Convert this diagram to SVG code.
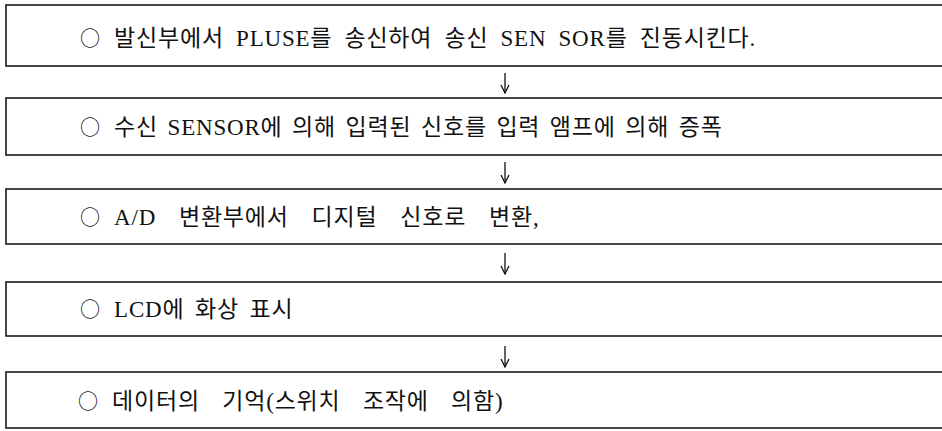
<svg xmlns="http://www.w3.org/2000/svg" width="942" height="431" viewBox="0 0 942 431">
<style>
.box{fill:#fff;stroke:#1a1a1a;stroke-width:1.6}
.lbl{font-family:"Liberation Serif","Noto Sans CJK KR",serif;font-size:23px;fill:#111;letter-spacing:0.8px}
.bul{font-family:"Noto Sans CJK KR",sans-serif;font-size:20px;word-spacing:8px}
.con{stroke:#111;stroke-width:1.3;fill:none}
</style>
<defs>
<marker id="ah" viewBox="-1 -5 10 10" refX="8" refY="0" markerWidth="10" markerHeight="10" markerUnits="userSpaceOnUse" orient="auto">
<path d="M0,-4 L8,0 L0,4" fill="none" stroke="#111" stroke-width="1.3"/>
</marker>
</defs>
<rect x="0" y="0" width="942" height="431" fill="#fff"/>
<g id="n1">
<rect class="box" x="6" y="5" width="950" height="61"/>
<text class="lbl" x="80" y="46" word-spacing="5.6"><tspan class="bul">○ </tspan>발신부에서 PLUSE를 송신하여 송신 SEN SOR를 진동시킨다.</text>
</g>
<g id="n2">
<rect class="box" x="6" y="98" width="950" height="57"/>
<text class="lbl" x="80" y="135" word-spacing="3"><tspan class="bul">○ </tspan>수신 SENSOR에 의해 입력된 신호를 입력 앰프에 의해 증폭</text>
</g>
<g id="n3">
<rect class="box" x="6" y="189" width="950" height="55"/>
<text class="lbl" x="80" y="225" word-spacing="16.3"><tspan class="bul">○ </tspan>A/D 변환부에서 디지털 신호로 변환,</text>
</g>
<g id="n4">
<rect class="box" x="6" y="282" width="950" height="54"/>
<text class="lbl" x="80" y="317" word-spacing="4"><tspan class="bul">○ </tspan>LCD에 화상 표시</text>
</g>
<g id="n5">
<rect class="box" x="6" y="372" width="950" height="56"/>
<text class="lbl" x="78" y="409" word-spacing="15.8"><tspan class="bul">○ </tspan>데이터의 기억(스위치 조작에 의함)</text>
</g>
<g id="connectors">
<line class="con" x1="505" y1="73" x2="505" y2="93" marker-end="url(#ah)"/>
<line class="con" x1="505" y1="162" x2="505" y2="183" marker-end="url(#ah)"/>
<line class="con" x1="505" y1="253" x2="505" y2="274" marker-end="url(#ah)"/>
<line class="con" x1="505" y1="346" x2="505" y2="367" marker-end="url(#ah)"/>
</g>
</svg>
